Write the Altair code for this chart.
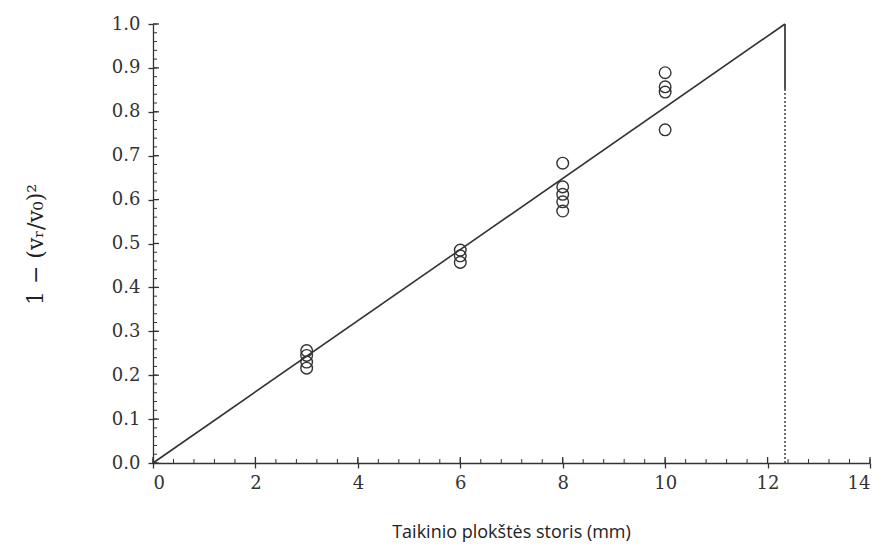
import altair as alt
import pandas as pd

# measured points
x_pts = [3, 3, 3, 3, 6, 6, 6, 8, 8, 8, 8, 8, 10, 10, 10, 10]
y_pts = [0.256, 0.245, 0.230, 0.216, 0.485, 0.472, 0.457,
         0.683, 0.629, 0.612, 0.595, 0.574, 0.889, 0.857, 0.845, 0.759]

# fitted line and limit thickness
fit_x = [0, 12.34]
fit_y = [0.0, 1.0]
limit_x = 12.34
limit_solid = [0.85, 1.0]
limit_dotted = [0.0, 0.85]

x_major = [0, 2, 4, 6, 8, 10, 12, 14]
x_minor = [round(i * 0.4, 2) for i in range(36)]
y_major = [round(i * 0.1, 1) for i in range(11)]
y_minor = [round(i * 0.02, 2) for i in range(51)]

pts = pd.DataFrame({"x": x_pts, "y": y_pts})
fit = pd.DataFrame({"x": fit_x, "y": fit_y})
solid = pd.DataFrame({"x": [limit_x], "y": [limit_solid[0]], "y2": [limit_solid[1]]})
dotted = pd.DataFrame({"x": [limit_x], "y": [limit_dotted[0]], "y2": [limit_dotted[1]]})

INK = "#333333"
H = 439
xs = alt.Scale(domain=[0, 14], nice=False, zero=False)
ys = alt.Scale(domain=[0, 1.0], nice=False, zero=False)

major_x_axis = alt.Axis(
    orient="bottom", values=x_major, format="d", tickSize=5, tickColor=INK,
    tickWidth=1.3, domainColor=INK, domainWidth=1.3, labelFont="DejaVu Serif",
    labelFontSize=18, labelColor=INK, labelPadding=6, grid=False,
    title="Taikinio plokštės storis (mm)", titleFont="Open Sans",
    titleFontSize=18, titleFontWeight="normal", titleColor="#222",
    titleX=358, titleY=69, titleBaseline="middle", titleAlign="center",
)
major_y_axis = alt.Axis(
    orient="left", values=y_major, format=".1f", tickSize=5, tickColor=INK,
    tickWidth=1.3, domainColor=INK, domainWidth=1.3, labelFont="DejaVu Serif",
    labelFontSize=18, labelColor=INK, labelPadding=8, grid=False,
    title="1 − (vᵣ/v₀)²", titleFont="DejaVu Serif", titleFontSize=22,
    titleFontWeight="normal", titleColor="#222", titleAngle=-90,
    titleX=-118, titleY=220, titleBaseline="middle", titleAlign="center",
)

points = alt.Chart(pts).mark_point(
    shape="circle", filled=False, size=135, stroke=INK, strokeWidth=1.4, opacity=1
).encode(
    x=alt.X("x:Q", scale=xs, axis=major_x_axis),
    y=alt.Y("y:Q", scale=ys, axis=major_y_axis),
)

line = alt.Chart(fit).mark_line(color=INK, strokeWidth=1.6).encode(
    x=alt.X("x:Q", scale=xs, axis=None),
    y=alt.Y("y:Q", scale=ys, axis=None),
)

solid_rule = alt.Chart(solid).mark_rule(color=INK, strokeWidth=1.7).encode(
    x=alt.X("x:Q", scale=xs, axis=None),
    y=alt.Y("y:Q", scale=ys, axis=None),
    y2="y2:Q",
)

dotted_rule = alt.Chart(dotted).mark_rule(
    color=INK, strokeWidth=1.4, strokeDash=[2, 2]
).encode(
    x=alt.X("x:Q", scale=xs, axis=None),
    y=alt.Y("y:Q", scale=ys, axis=None),
    y2="y2:Q",
)

# inward tick marks (minor and major)
xmin_ticks = alt.Chart(pd.DataFrame({"t": x_minor})).mark_rule(
    color=INK, strokeWidth=1
).encode(
    x=alt.X("t:Q", scale=xs, axis=None),
    y=alt.value(H), y2=alt.value(H - 4),
)
xmaj_ticks = alt.Chart(pd.DataFrame({"t": x_major})).mark_rule(
    color=INK, strokeWidth=1.3
).encode(
    x=alt.X("t:Q", scale=xs, axis=None),
    y=alt.value(H), y2=alt.value(H - 6),
)
ymin_ticks = alt.Chart(pd.DataFrame({"t": y_minor})).mark_rule(
    color=INK, strokeWidth=1
).encode(
    y=alt.Y("t:Q", scale=ys, axis=None),
    x=alt.value(0), x2=alt.value(4),
)
ymaj_ticks = alt.Chart(pd.DataFrame({"t": y_major})).mark_rule(
    color=INK, strokeWidth=1.3
).encode(
    y=alt.Y("t:Q", scale=ys, axis=None),
    x=alt.value(0), x2=alt.value(6),
)

chart = alt.layer(
    points, xmin_ticks, xmaj_ticks, ymin_ticks, ymaj_ticks,
    line, solid_rule, dotted_rule
).resolve_axis(
    x="independent", y="independent"
).properties(
    width=717, height=H,
    autosize=alt.AutoSizeParams(type="none"),
    padding={"left": 153, "top": 24, "right": 17, "bottom": 89},
    background="white",
).configure_view(stroke=None)

chart.save("out.html", embed_options={"renderer": "svg", "actions": False})
